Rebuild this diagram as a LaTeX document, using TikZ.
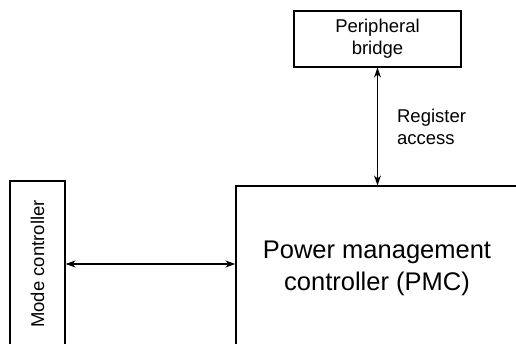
\documentclass[tikz,border=0pt]{standalone}
\usepackage{fontspec}
\setmainfont{Liberation Sans}
\usetikzlibrary{arrows.meta}

\begin{document}
\begin{tikzpicture}[x=1pt,y=1pt]

\tikzset{BlockStyle/.style = {draw, line width = 1.2pt, inner sep = 0pt, align = center,
    font = \fontsize{18.5}{22}\selectfont}}
\tikzset{LinkStyle/.style = {line width = 1.2pt, {Stealth[length=10pt,width=7pt]}-{Stealth[length=10pt,width=7pt]}}}

\useasboundingbox (0,0) rectangle (516,343);
\clip (0,0) rectangle (516,343);

\node[BlockStyle, minimum width = 167, minimum height = 56] (bridge) at (377.5,304) {Peripheral\\bridge};
\node[BlockStyle, minimum width = 282, minimum height = 164,
      font = \fontsize{25.5}{32}\selectfont] (pmc) at (377,75) {Power management\\controller (PMC)};
\node[BlockStyle, rotate = 90, minimum width = 166, minimum height = 55] (mode) at (37.5,79) {Mode controller};

\draw[LinkStyle] (bridge.south) -- node[right, align = left, inner sep = 0pt, xshift = 19pt,
    font = \fontsize{18.5}{22}\selectfont] {Register\\access} (bridge.south |- pmc.north);
\draw[LinkStyle] (mode.south) -- (mode.south -| pmc.west);

\end{tikzpicture}
\end{document}
